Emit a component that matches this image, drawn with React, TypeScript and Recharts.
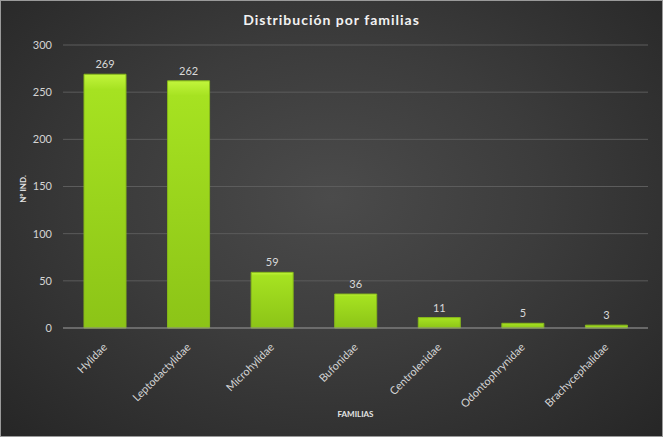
import { BarChart, Bar, XAxis, YAxis, CartesianGrid, LabelList, Label } from 'recharts';

const familias = ['Hylidae', 'Leptodactylidae', 'Microhylidae', 'Bufonidae', 'Centrolenidae', 'Odontophrynidae', 'Brachycephalidae'];
const individuos = [269, 262, 59, 36, 11, 5, 3];
const yTicks = [0, 50, 100, 150, 200, 250, 300];

const data = familias.map((name, i) => ({ name, value: individuos[i] }));

const font = 'Lato, "Open Sans", sans-serif';

function FamilyTick({ x, y, payload }: any) {
  return (
    <g transform={`translate(${x + 3},${y + 12})`}>
      <text
        textAnchor="end"
        transform="rotate(-45)"
        fill="#d4d4d4"
        fontSize={11}
        fontFamily={font}
      >
        {payload.value}
      </text>
    </g>
  );
}

export default function App() {
  return (
    <div
      style={{
        position: 'absolute',
        left: 0,
        top: 0,
        width: 663,
        height: 437,
        boxSizing: 'border-box',
        border: '1px solid #9a9a9a',
        background: 'radial-gradient(ellipse at 50% 45%, #4b4b4b 0%, #3c3c3c 45%, #262626 100%)',
        fontFamily: font,
      }}
    >
      <div
        style={{
          position: 'absolute',
          top: 10,
          left: 0,
          width: '100%',
          textAlign: 'center',
          color: '#f2f2f2',
          fontSize: 14,
          fontWeight: 700,
          letterSpacing: 1,
        }}
      >
        Distribución por familias
      </div>
      {/* y axis title, rotated */}
      <div
        style={{
          position: 'absolute',
          left: 22,
          top: 188,
          transform: 'translate(-50%, -50%) rotate(-90deg)',
          color: '#e6e6e6',
          fontSize: 8,
          fontWeight: 700,
          whiteSpace: 'nowrap',
          zIndex: 1,
        }}
      >
        Nº IND.
      </div>
      <BarChart
        width={661}
        height={435}
        data={data}
        margin={{ top: 44, right: 14, bottom: 0, left: 0 }}
        style={{ position: 'absolute', left: 0, top: 0 }}
      >
        <defs>
          <linearGradient id="barFill" x1="0" y1="0" x2="0" y2="1">
            <stop offset="0%" stopColor="#c2f53c" />
            <stop offset="6%" stopColor="#a6e221" />
            <stop offset="100%" stopColor="#8cc417" />
          </linearGradient>
        </defs>
        <CartesianGrid stroke="#5c5c5c" vertical={false} />
        <XAxis
          dataKey="name"
          interval={0}
          height={108}
          stroke="#8c8c8c"
          tickLine={false}
          tick={<FamilyTick />}
        >
          <Label
            content={({ viewBox }: any) => (
              <text
                x={viewBox.x + viewBox.width / 2}
                y={viewBox.y + viewBox.height - 19}
                textAnchor="middle"
                fill="#e6e6e6"
                fontSize={8}
                fontWeight={700}
                fontFamily={font}
              >
                FAMILIAS
              </text>
            )}
          />
        </XAxis>
        <YAxis
          width={62}
          domain={[0, 300]}
          ticks={yTicks}
          axisLine={false}
          tickLine={false}
          tickSize={0}
          tickMargin={11}
          tick={{ fill: '#d4d4d4', fontSize: 11, fontFamily: font }}
        />
        <Bar
          dataKey="value"
          barSize={42}
          fill="url(#barFill)"
          stroke="#86b81a"
          strokeWidth={1}
          isAnimationActive={false}
        >
          <LabelList
            dataKey="value"
            position="top"
            offset={6}
            fill="#d9d9d9"
            fontSize={11}
            fontFamily={font}
          />
        </Bar>
      </BarChart>
    </div>
  );
}
